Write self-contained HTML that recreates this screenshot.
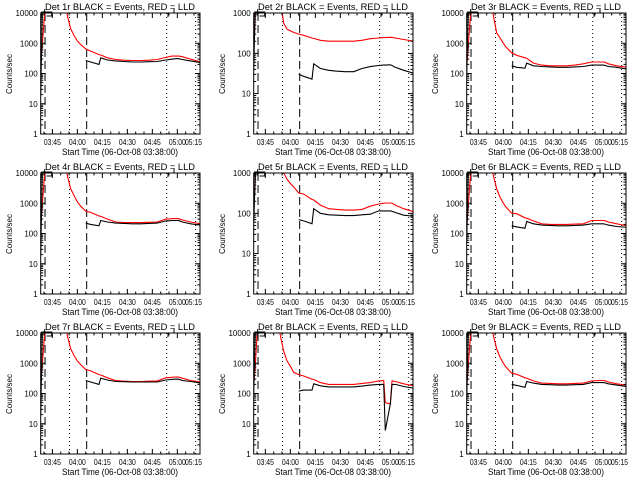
<!DOCTYPE html>
<html><head><meta charset="utf-8"><style>
html,body{margin:0;padding:0;background:#fff;}
svg{display:block;font-family:"Liberation Sans",sans-serif;}
</style></head><body>
<svg id="chart" width="640" height="480" viewBox="0 0 640 480"></svg>
<script>
// minutes after 03:38:00
const times = [0,1,2,3,15,16,18,20,22,24,27,30,35,36,40,45,50,55,60,65,70,75,78,79,82,83,85,90,96];
const xTickMinutes = [7,22,37,52,67,82,97];
const xTickLabels = ["03:45","04:00","04:15","04:30","04:45","05:00","05:15"];
const dashedMinutes = [2.6,27.6];
const dottedMinutes = [17.3,75.6,93];
const panelTitles = ["Det 1r","Det 2r","Det 3r","Det 4r","Det 5r","Det 6r","Det 7r","Det 8r","Det 9r"];
const panelMaxDecade = [4,3,4,4,3,4,4,4,4];
const N = null;
const red1 = [220,1000,5000,20000,20000,8000,3000,1800,1200,900,650,550,420,410,330,290,275,270,270,275,290,340,370,375,380,375,360,300,240];
const blk1 = [20,20000,N,N,N,N,N,N,N,N,270,240,200,330,280,260,250,240,240,245,250,280,295,300,310,305,290,260,230];
const red2 = [200,1000,3000,5000,5000,2000,560,400,360,330,300,280,240,235,210,200,200,200,200,210,230,240,245,245,250,248,240,220,200];
const blk2 = [40,2000,N,N,N,N,N,N,N,N,30,27,23,55,42,38,36,35,35,42,47,50,51,51,52,50,45,38,32];
const red3 = [150,1000,5000,20000,20000,8000,2200,1500,1000,700,480,400,330,320,220,190,180,180,180,190,210,240,240,240,240,235,210,180,160];
const blk3 = [100,20000,N,N,N,N,N,N,N,N,180,160,150,220,180,170,165,160,160,165,170,190,190,190,190,185,170,160,140];
const red4 = [200,1000,5000,20000,20000,8000,3000,1800,1100,800,550,500,380,370,300,240,230,230,230,235,240,300,305,310,310,305,280,240,210];
const blk4 = [20,20000,N,N,N,N,N,N,N,N,220,200,180,270,240,220,215,210,210,215,220,260,265,270,270,265,240,210,190];
const red5 = [100,1000,3000,5000,5000,5000,1000,700,550,450,320,300,220,215,160,130,125,120,120,125,150,170,178,180,180,178,160,130,110];
const blk5 = [60,1000,N,N,N,N,N,N,N,N,70,65,55,130,100,92,90,88,88,92,95,115,115,115,115,112,105,90,85];
const red6 = [150,1000,5000,20000,20000,8000,3000,1600,1000,700,470,450,330,320,260,210,200,200,200,205,210,270,270,270,270,265,240,210,180];
const blk6 = [50,20000,N,N,N,N,N,N,N,N,180,165,150,250,210,190,185,180,180,185,190,210,210,210,210,205,190,170,160];
const red7 = [220,1000,5000,20000,20000,8000,3000,1800,1200,900,620,560,420,410,330,270,255,250,250,255,260,330,340,345,350,345,320,270,240];
const blk7 = [20,20000,N,N,N,N,N,N,N,N,270,240,200,320,280,250,245,240,240,240,240,280,290,295,300,295,270,250,220];
const red8 = [180,1000,8000,20000,20000,8000,2500,1200,800,500,420,380,300,290,230,200,200,200,200,215,230,260,270,50,45,260,250,210,180];
const blk8 = [100,20000,N,N,N,N,N,N,N,N,120,130,130,210,180,165,165,165,165,175,190,200,200,6,45,200,200,170,150];
const red9 = [150,1000,5000,20000,20000,8000,3000,1600,1000,700,470,430,330,320,260,220,215,210,210,215,220,260,265,270,270,265,240,210,190];
const blk9 = [60,20000,N,N,N,N,N,N,N,N,200,185,160,250,220,200,195,190,190,195,200,230,230,230,230,225,210,190,170];
const redSeries = [red1,red2,red3,red4,red5,red6,red7,red8,red9];
const blkSeries = [blk1,blk2,blk3,blk4,blk5,blk6,blk7,blk8,blk9];

const NS = "http://www.w3.org/2000/svg";
const svg = document.getElementById("chart");
function mk(tag, attrs, parent){ const e=document.createElementNS(NS,tag); for(const k in attrs) e.setAttribute(k,attrs[k]); parent.appendChild(e); return e; }

const L=40.7, R=200, T=13, B=134, PXMIN=(R-L)/95.6;
for(let p=0;p<9;p++){
  const col=p%3,row=Math.floor(p/3);
  const ox=[0,213,426][col], oy=row*160;
  const g=mk("g",{transform:`translate(${ox},${oy})`},svg);
  
  
  const maxD=panelMaxDecade[p];
  const xs=t=>L+t*PXMIN;
  const ys=v=>B-(Math.log10(v)/maxD)*(B-T);
  const cid="clip"+p;
  const cp=mk("clipPath",{id:cid},g); mk("rect",{x:L,y:T,width:R-L,height:B-T},cp);
  dashedMinutes.forEach(m=>{const l=mk("line",{x1:xs(m),x2:xs(m),y1:T,y2:B,stroke:"#000","stroke-width":1,"stroke-dasharray":"8,4"},g);
    
    });
  dottedMinutes.forEach(m=>{const l=mk("line",{x1:xs(m),x2:xs(m),y1:T,y2:B,stroke:"#000","stroke-width":1,"stroke-dasharray":"1,3"},g);
    
    });
  function drawSeries(vals,color,name){
    let d="",pen=false;
    for(let i=0;i<times.length;i++){
      if(vals[i]==null){pen=false;continue;}
      d+=(pen?"L":"M")+xs(times[i]).toFixed(1)+","+ys(vals[i]).toFixed(1);
      pen=true;
    }
    const path=mk("path",{d:d,fill:"none",stroke:color,"stroke-width":1.1,"clip-path":`url(#${cid})`},g);
    
    
  }
  drawSeries(redSeries[p],"#ff0000","lld-series");
  drawSeries(blkSeries[p],"#000000","events-series");
  const br=mk("path",{d:`M${L+1},17V12H${L+11}V16H${L+6} M${L+4},9V13 M168,17V13H174V9`,fill:"none",stroke:"#000","stroke-width":1},g);
  
  
  const box=mk("rect",{x:L,y:T,width:R-L,height:B-T,fill:"none",stroke:"#000","stroke-width":1},g);
  
  
  let tk="";
  for(let d=0;d<=maxD;d++){
    const y=ys(Math.pow(10,d));
    tk+=`M${L},${y}h5M${R},${y}h-5`;
    if(d<maxD) for(let k=2;k<10;k++){const yy=ys(k*Math.pow(10,d)); tk+=`M${L},${yy}h2.5M${R},${yy}h-2.5`;}
    const t=mk("text",{x:L-3,y:y+3,"font-size":8,"text-anchor":"end"},g);
    t.textContent=String(Math.pow(10,d));
    
    
  }
  for(let m=2;m<96;m+=5){ const x=xs(m); const major=xTickMinutes.includes(m);
    tk+=`M${x},${B}v-${major?5:2.5}M${x},${T}v${major?5:2.5}`; }
  mk("path",{d:tk,stroke:"#000","stroke-width":1,fill:"none"},g);
  xTickLabels.forEach((lab,i)=>{
    let x=xs(xTickMinutes[i]); if(x>R-6) x=R-6.5;
    const t=mk("text",{x:x,y:145,"font-size":8,"text-anchor":"middle",textLength:17,lengthAdjust:"spacingAndGlyphs"},g);
    t.textContent=lab;
    
    
  });
  const xt=mk("text",{x:120,y:155,"font-size":9,"text-anchor":"middle",textLength:116,lengthAdjust:"spacingAndGlyphs"},g);
  xt.textContent="Start Time (06-Oct-08 03:38:00)";
  
  
  const yt=mk("text",{x:0,y:0,"font-size":8,"text-anchor":"middle",transform:"translate(12,74) rotate(-90)"},g);
  yt.textContent="Counts/sec";
  
  
  const ti=mk("text",{x:120,y:10,"font-size":9.5,"text-anchor":"middle",textLength:150,lengthAdjust:"spacingAndGlyphs"},g);
  ti.textContent=panelTitles[p]+" BLACK = Events, RED = LLD";
  
  
}
</script>
</body></html>
